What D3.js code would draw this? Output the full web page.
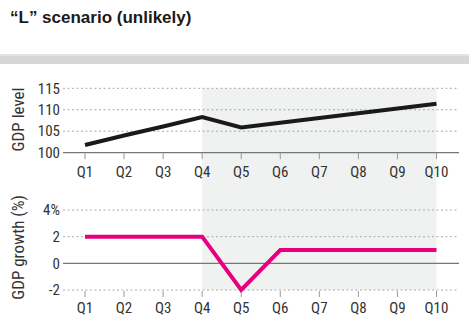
<!DOCTYPE html>
<html><head><meta charset="utf-8">
<script src="https://cdn.jsdelivr.net/npm/d3@7"></script>
<style>
body{margin:0;background:#fff;}
svg{display:block;}
</style></head>
<body><svg id="c" width="469" height="328"></svg>
<script>
const quarters = ["Q1","Q2","Q3","Q4","Q5","Q6","Q7","Q8","Q9","Q10"];
const gdpLevel = [101.8,104.0,106.1,108.3,105.9,107.0,108.1,109.2,110.3,111.4];
const gdpGrowth = [2,2,2,2,-2,1,1,1,1,1];
const levelTicks = [100,105,110,115];
const growthTicks = [-2,0,2,4];
const shadeFrom = "Q4", shadeTo = "Q10";
const title = "\u201cL\u201d scenario (unlikely)";

const svg = d3.select("#c");
const x = d3.scalePoint().domain(quarters).range([85,436.5]);
const yTop = d3.scaleLinear().domain([100,115]).range([152.7,88.3]);
const yBot = d3.scaleLinear().domain([-2,4]).range([290,210]);
const gx0 = 63, gx1 = 459;
const font = '"Liberation Sans Narrow","Roboto Condensed","Liberation Sans",sans-serif';

// title
svg.append("text").attr("x",10).attr("y",23).attr("font-family","'Liberation Sans',Arial,sans-serif")
  .attr("font-weight","bold").attr("font-size",17).attr("fill","#1a1a1a").text(title);
// separator bar
svg.append("rect").attr("x",0).attr("y",54).attr("width",469).attr("height",10).attr("fill","#d6d6d6");
svg.append("rect").attr("x",0).attr("y",54).attr("width",469).attr("height",2).attr("fill","#e2e2e2");

// shading
svg.append("rect").attr("x",x(shadeFrom)).attr("y",yTop(115)).attr("width",x(shadeTo)-x(shadeFrom))
  .attr("height",yBot(-2)-yTop(115)).attr("fill","#f0f1f1");

function panel(y, ticks, solidVal, tickY, labelY, fmt){
  ticks.forEach(v=>{
    if(v===solidVal){
      svg.append("line").attr("x1",gx0).attr("x2",gx1).attr("y1",y(v)).attr("y2",y(v))
        .attr("stroke","#777").attr("stroke-width",1.3);
    } else {
      svg.append("line").attr("x1",gx0).attr("x2",gx1).attr("y1",y(v)).attr("y2",y(v))
        .attr("stroke","#aaa").attr("stroke-width",1).attr("stroke-dasharray","2,2.5");
    }
    svg.append("text").attr("x",60).attr("y",y(v)).attr("dy","0.35em").attr("text-anchor","end")
      .attr("font-family",font).attr("font-size",15).attr("fill","#333").text(fmt(v));
  });
  quarters.forEach(q=>{
    svg.append("line").attr("x1",x(q)).attr("x2",x(q)).attr("y1",tickY).attr("y2",tickY+6)
      .attr("stroke","#999").attr("stroke-width",1);
    svg.append("text").attr("x",x(q)).attr("y",labelY).attr("dy","0.35em").attr("text-anchor","middle")
      .attr("font-family",font).attr("font-size",15).attr("fill","#333").text(q);
  });
}
panel(yTop, levelTicks, 100, yTop(100)+0.5, 171.5, v=>String(v));
panel(yBot, growthTicks, 0, yBot(-2)+1, 308, v=>v===4?"4%":String(v));

// lines
svg.append("path").datum(gdpLevel)
  .attr("d", d3.line().x((d,i)=>x(quarters[i])).y(d=>yTop(d)))
  .attr("fill","none").attr("stroke","#1a1a1a").attr("stroke-width",4).attr("stroke-linejoin","miter");
svg.append("path").datum(gdpGrowth)
  .attr("d", d3.line().x((d,i)=>x(quarters[i])).y(d=>yBot(d)))
  .attr("fill","none").attr("stroke","#e6007e").attr("stroke-width",4).attr("stroke-linejoin","miter");

// axis titles
svg.append("text").attr("transform",`translate(24,119.5) rotate(-90)`)
  .attr("text-anchor","middle").attr("font-family",font).attr("font-size",17).attr("fill","#333").text("GDP level");
svg.append("text").attr("transform",`translate(24,247.5) rotate(-90)`)
  .attr("text-anchor","middle").attr("font-family",font).attr("font-size",17).attr("fill","#333").text("GDP growth (%)");
</script></body></html>
